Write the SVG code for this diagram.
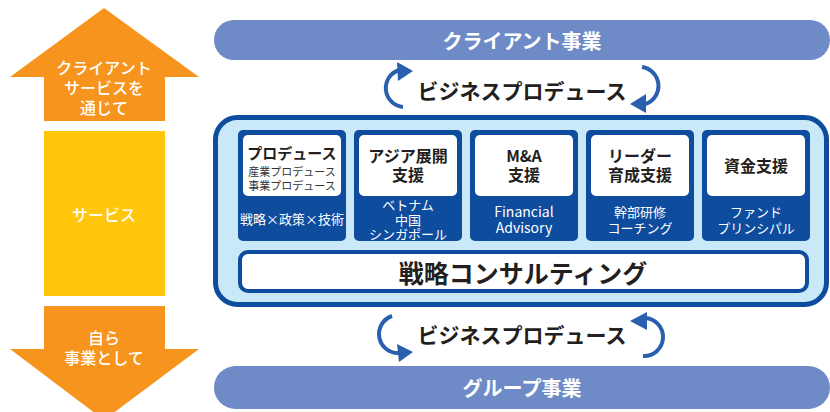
<svg xmlns="http://www.w3.org/2000/svg" width="830" height="412" viewBox="0 0 830 412">
<style>
text{font-family:"Noto Sans CJK JP","Noto Sans",sans-serif;text-anchor:middle;dominant-baseline:central}
.side{fill:#fff;font-size:16px;font-weight:500}
.pill{fill:#6E8BC7}
.pilltxt{fill:#fff;font-size:20px;font-weight:bold}
.bp{fill:#231F20;font-size:21px;font-weight:bold}
.arc{fill:none;stroke:#2A5FAE;stroke-width:4}
.head{fill:#2A5FAE}
.card{fill:#0E4C9E}
.inner{fill:#fff}
.h{fill:#231F20;font-size:16px;font-weight:bold}
.s{fill:#333;font-size:11px}
.w{fill:#fff;font-size:13px}
.wl{fill:#fff;font-size:14px}
</style>
<g id="up-arrow">
<polygon points="104,8 199,77 165,77 165,121 44,121 44,77 10,77" fill="#F7941D"/>
<text class="side" x="104" y="67">クライアント</text>
<text class="side" x="104" y="87">サービスを</text>
<text class="side" x="104" y="107">通じて</text>
</g>
<g id="service">
<rect x="44" y="131" width="121" height="165" fill="#FFC60B"/>
<text class="side" x="104" y="214">サービス</text>
</g>
<g id="down-arrow">
<polygon points="44,306 165,306 165,349 199,349 104,420 10,349 44,349" fill="#F7941D"/>
<text class="side" x="104" y="337">自ら</text>
<text class="side" x="104" y="357">事業として</text>
</g>
<g id="client-business">
<rect class="pill" x="214" y="20" width="616" height="40" rx="20"/>
<text class="pilltxt" x="522" y="40">クライアント事業</text>
</g>
<g id="group-business">
<rect class="pill" x="214" y="366" width="616" height="43" rx="21.5"/>
<text class="pilltxt" x="522" y="387">グループ事業</text>
</g>
<g id="bp-top">
<text class="bp" x="522" y="90">ビジネスプロデュース</text>
</g>
<g id="bp-bottom">
<text class="bp" x="522" y="334">ビジネスプロデュース</text>
</g>
<g id="container">
<rect x="215.5" y="117.5" width="611" height="187" rx="22" fill="#C9E8F8" stroke="#0E4C9E" stroke-width="5"/>
</g>
<g id="card-produce">
<rect class="card" x="238" y="130" width="108" height="111" rx="5"/>
<rect class="inner" x="243" y="135" width="98" height="61" rx="5"/>
<text class="h" x="292" y="152" style="font-size:15px">プロデュース</text>
<text class="s" x="292" y="171">産業プロデュース</text>
<text class="s" x="292" y="185">事業プロデュース</text>
<text class="w" x="292" y="218">戦略×政策×技術</text>
</g>
<g id="card-asia">
<rect class="card" x="354" y="130" width="108" height="111" rx="5"/>
<rect class="inner" x="359" y="135" width="98" height="61" rx="5"/>
<text class="h" x="408" y="155">アジア展開</text>
<text class="h" x="408" y="174">支援</text>
<text class="w" x="408" y="204">ベトナム</text>
<text class="w" x="408" y="219">中国</text>
<text class="w" x="408" y="233">シンガポール</text>
</g>
<g id="card-ma">
<rect class="card" x="470" y="130" width="108" height="111" rx="5"/>
<rect class="inner" x="475" y="135" width="98" height="61" rx="5"/>
<text class="h" x="524" y="155">M&amp;A</text>
<text class="h" x="524" y="174">支援</text>
<text class="wl" x="524" y="211">Financial</text>
<text class="wl" x="524" y="227">Advisory</text>
</g>
<g id="card-leader">
<rect class="card" x="586" y="130" width="108" height="111" rx="5"/>
<rect class="inner" x="591" y="135" width="98" height="61" rx="5"/>
<text class="h" x="640" y="155">リーダー</text>
<text class="h" x="640" y="174">育成支援</text>
<text class="w" x="640" y="211">幹部研修</text>
<text class="w" x="640" y="227">コーチング</text>
</g>
<g id="card-fund">
<rect class="card" x="702" y="130" width="108" height="111" rx="5"/>
<rect class="inner" x="707" y="135" width="98" height="61" rx="5"/>
<text class="h" x="756" y="165">資金支援</text>
<text class="w" x="756" y="211">ファンド</text>
<text class="w" x="756" y="227">プリンシパル</text>
</g>
<g id="consulting">
<rect x="240" y="252" width="567" height="39" rx="8" fill="#fff" stroke="#0E4C9E" stroke-width="4"/>
<text x="523" y="272" style="fill:#231F20;font-size:25px;font-weight:bold">戦略コンサルティング</text>
</g>
<g id="connectors">
<path class="arc" d="M403 107 A19 19 0 0 1 399 70"/>
<polygon class="head" points="397,62 413,71 398,81"/>
<path class="arc" d="M642 67 A19 19 0 0 1 645 104"/>
<polygon class="head" points="630,104 646,94 646,113"/>
<path class="arc" d="M392 316 A19 19 0 0 0 399 353"/>
<polygon class="head" points="397,344 413,352 399,362"/>
<path class="arc" d="M645 318 A19 19 0 0 1 643 356"/>
<polygon class="head" points="630,321 647,312 647,330"/>
</g>
</svg>
